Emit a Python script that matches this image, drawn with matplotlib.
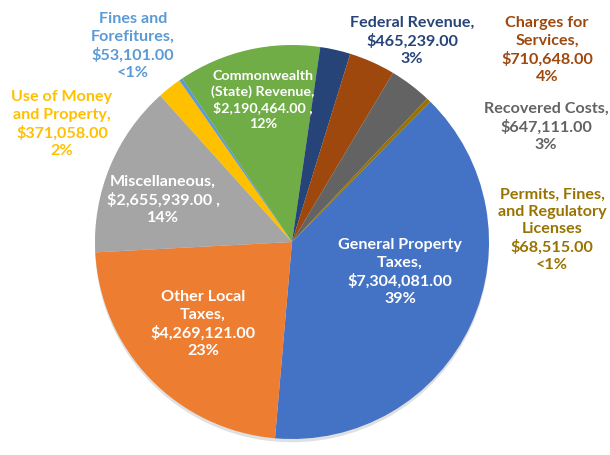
import matplotlib
matplotlib.use("Agg")
import matplotlib.pyplot as plt

categories = ["General Property Taxes", "Other Local Taxes", "Miscellaneous",
              "Use of Money and Property", "Fines and Forefitures",
              "Commonwealth (State) Revenue", "Federal Revenue",
              "Charges for Services", "Recovered Costs",
              "Permits, Fines, and Regulatory Licenses"]
values = [7304081.00, 4269121.00, 2655939.00, 371058.00, 53101.00,
          2190464.00, 465239.00, 710648.00, 647111.00, 68515.00]
label_texts = [
    "General Property\nTaxes,\n$7,304,081.00\n39%",
    "Other Local\nTaxes,\n$4,269,121.00\n23%",
    "Miscellaneous,\n$2,655,939.00 ,\n14%",
    "Use of Money\nand Property,\n$371,058.00\n2%",
    "Fines and\nForefitures,\n$53,101.00\n<1%",
    "Commonwealth\n(State) Revenue,\n$2,190,464.00 ,\n12%",
    "Federal Revenue,\n$465,239.00\n3%",
    "Charges for\nServices,\n$710,648.00\n4%",
    "Recovered Costs,\n$647,111.00\n3%",
    "Permits, Fines,\nand Regulatory\nLicenses\n$68,515.00\n<1%",
]

colors = ["#4472C4", "#ED7D31", "#A5A5A5", "#FFC000", "#5B9BD5",
          "#70AD47", "#264478", "#9E480E", "#636363", "#997300"]
label_colors = ["white", "white", "white", "#FFC000", "#5B9BD5",
                "white", "#264478", "#9E480E", "#636363", "#997300"]
# label centres in pixels (x, y from top)
label_pos = [(400, 272), (203, 324), (163, 200), (62, 124), (133, 46),
             (263, 100), (412, 41), (547, 50), (546, 127), (552, 230)]
label_size = [11.6, 11.6, 11.6, 11.6, 11.6, 10.3, 11.6, 11.6, 11.6, 11.6]

W, H = 610, 456
cx, cy, r = 292, 243, 197

fig = plt.figure(figsize=(W / 100, H / 100), dpi=100)
fig.patch.set_facecolor("white")
ax = fig.add_axes([(cx - r) / W, (H - cy - r) / H, 2 * r / W, 2 * r / H])
ax.pie(values, colors=colors, startangle=45.4, counterclock=False,
       radius=1, wedgeprops=dict(linewidth=0),
       shadow=dict(ox=0.0, oy=-0.012, shade=0.0, alpha=0.12, facecolor="black", edgecolor="none"))
ax.set_xlim(-1, 1)
ax.set_ylim(-1, 1)
ax.set_aspect("auto")
ax.axis("off")

for txt, (px, py), col, fs in zip(label_texts, label_pos, label_colors, label_size):
    fig.text(px / W, 1 - py / H, txt, ha="center", va="center",
             color=col, fontsize=fs, fontweight="bold", family="Lato",
             linespacing=1.3, multialignment="center")

fig.savefig("out.png", dpi=100, facecolor="white")
